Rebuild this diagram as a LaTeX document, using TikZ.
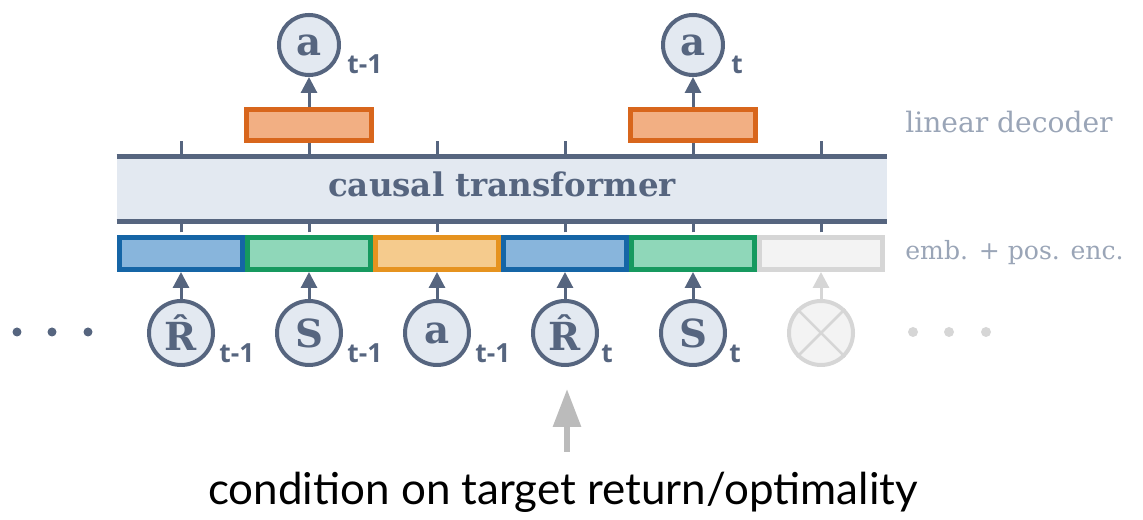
\documentclass[tikz,border=0pt]{standalone}
\usepackage{fontspec}
\usetikzlibrary{arrows.meta}
\setmainfont{DejaVu Serif}
\newfontfamily\subfont{Open Sans}
\newfontfamily\capfont{Lato}
\definecolor{slate}{HTML}{56657F}
\definecolor{pale}{HTML}{E3E9F1}
\definecolor{labgray}{HTML}{9AA5B7}
\definecolor{bluedraw}{HTML}{1565A6}
\definecolor{bluefill}{HTML}{88B5DC}
\definecolor{greendraw}{HTML}{16995F}
\definecolor{greenfill}{HTML}{8FD7B9}
\definecolor{amberdraw}{HTML}{E6931F}
\definecolor{amberfill}{HTML}{F5CB8D}
\definecolor{orangedraw}{HTML}{D8661C}
\definecolor{orangefill}{HTML}{F2AF83}
\definecolor{ghostdraw}{HTML}{D6D6D6}
\definecolor{ghostfill}{HTML}{F3F3F3}
\definecolor{bigarrow}{HTML}{BBBBBB}

\begin{document}
\begin{tikzpicture}[
  tok/.style={circle,draw=slate,fill=pale,line width=0.08cm,minimum size=1.28cm,inner sep=0pt,
    text=slate,font=\bfseries\fontsize{22}{22}\selectfont},
  emb/.style={rectangle,line width=0.1cm,minimum width=2.46cm,minimum height=0.64cm,inner sep=0pt},
  dec/.style={emb,draw=orangedraw,fill=orangefill,minimum width=2.5cm,minimum height=0.62cm},
  sub/.style={text=slate,font=\subfont\bfseries\fontsize{15}{15}\selectfont,inner sep=0pt,anchor=west},
  side/.style={text=labgray,font=\fontsize{16}{16}\selectfont,anchor=base west,inner sep=0pt},
  link/.style={draw=slate,line width=0.06cm},
  tick/.style={draw=slate,line width=0.06cm},
  >={Triangle[length=0.32cm,width=0.32cm]}
]
\useasboundingbox (0,0) rectangle (22.86,10.4);

% transformer band
\node[fill=pale,minimum width=15.4cm,minimum height=1.28cm,inner sep=0pt] (tf) at (10.04,6.62) {};
\draw[slate,line width=0.1cm] (tf.north west) -- (tf.north east);
\draw[slate,line width=0.1cm] (tf.south west) -- (tf.south east);
\node[text=slate,font=\bfseries\fontsize{18.5}{18.5}\selectfont,anchor=base,inner sep=0pt] (tftext) at (10.04,6.46) {causal transformer};

% embeddings
\node[emb,draw=bluedraw,fill=bluefill] (e1) at (3.62,5.33) {};
\node[emb,draw=greendraw,fill=greenfill] (e2) at (6.18,5.33) {};
\node[emb,draw=amberdraw,fill=amberfill] (e3) at (8.74,5.33) {};
\node[emb,draw=bluedraw,fill=bluefill] (e4) at (11.30,5.33) {};
\node[emb,draw=greendraw,fill=greenfill] (e5) at (13.86,5.33) {};
\node[emb,draw=ghostdraw,fill=ghostfill] (e6) at (16.42,5.33) {};
\foreach \i in {1,...,6}{
  \draw[tick] ([yshift=0.05cm]e\i.north) -- (e\i.north |- tf.south);
  \draw[tick] (e\i.north |- tf.north) -- ++(0,0.32);
}

% decoder
\node[dec] (d1) at (6.18,7.9) {};
\node[dec] (d2) at (13.86,7.9) {};

% outputs
\node[tok,minimum size=1.2cm] (o1) at (6.18,9.5) {a};
\node[tok,minimum size=1.2cm] (o2) at (13.86,9.5) {a};
\node[sub] (o1t) at ([shift={(0.76,-0.39)}]o1.center) {t-1};
\node[sub] (o2t) at ([shift={(0.76,-0.39)}]o2.center) {t};
\draw[->,link] (d1) -- (o1);
\draw[->,link] (d2) -- (o2);

% inputs
\node[tok] (r1) at (3.62,3.74) {\^{R}};
\node[tok] (s1) at (6.18,3.74) {S};
\node[tok] (a1) at (8.74,3.74) {a};
\node[tok] (r2) at (11.30,3.74) {\^{R}};
\node[tok] (s2) at (13.86,3.74) {S};
\node[tok,draw=ghostdraw,fill=ghostfill] (x) at (16.42,3.74) {};
\draw[ghostdraw,line width=0.05cm] (x.45) -- (x.225) (x.135) -- (x.-45);
\node[sub] (r1t) at ([shift={(0.76,-0.41)}]r1.center) {t-1};
\node[sub] (s1t) at ([shift={(0.76,-0.41)}]s1.center) {t-1};
\node[sub] (a1t) at ([shift={(0.76,-0.41)}]a1.center) {t-1};
\node[sub] (r2t) at ([shift={(0.72,-0.41)}]r2.center) {t};
\node[sub] (s2t) at ([shift={(0.72,-0.41)}]s2.center) {t};
\foreach \n/\e in {r1/e1,s1/e2,a1/e3,r2/e4,s2/e5}
  \draw[->,link] (\n) -- (\e);
\draw[->,link,draw=ghostdraw,>={Triangle[length=0.32cm,width=0.32cm,fill=ghostdraw]}] (x) -- (e6);

% ellipses
\foreach \x in {0.34,1.04,1.76}
  \fill[slate] (\x,3.76) circle (0.09);
\foreach \x in {18.26,18.98,19.72}
  \fill[ghostdraw] (\x,3.76) circle (0.1);

% side labels
\node[side] (declab) at (18.1,7.74) {linear decoder};
\node[side,font=\fontsize{14.3}{14.3}\selectfont] (emblab) at (18.1,5.2) {emb. + pos. enc.};

% condition
\coordinate (tail) at (11.34,1.36);
\coordinate (tip) at (11.34,2.62);
\draw[-{Triangle[length=0.76cm,width=0.54cm]},bigarrow,line width=0.12cm] (tail) -- (tip);
\node[anchor=base,inner sep=0pt,font=\capfont\fontsize{25}{25}\selectfont] (cond) at (11.26,0.3) {condition on target return/optimality};
\end{tikzpicture}
\end{document}
